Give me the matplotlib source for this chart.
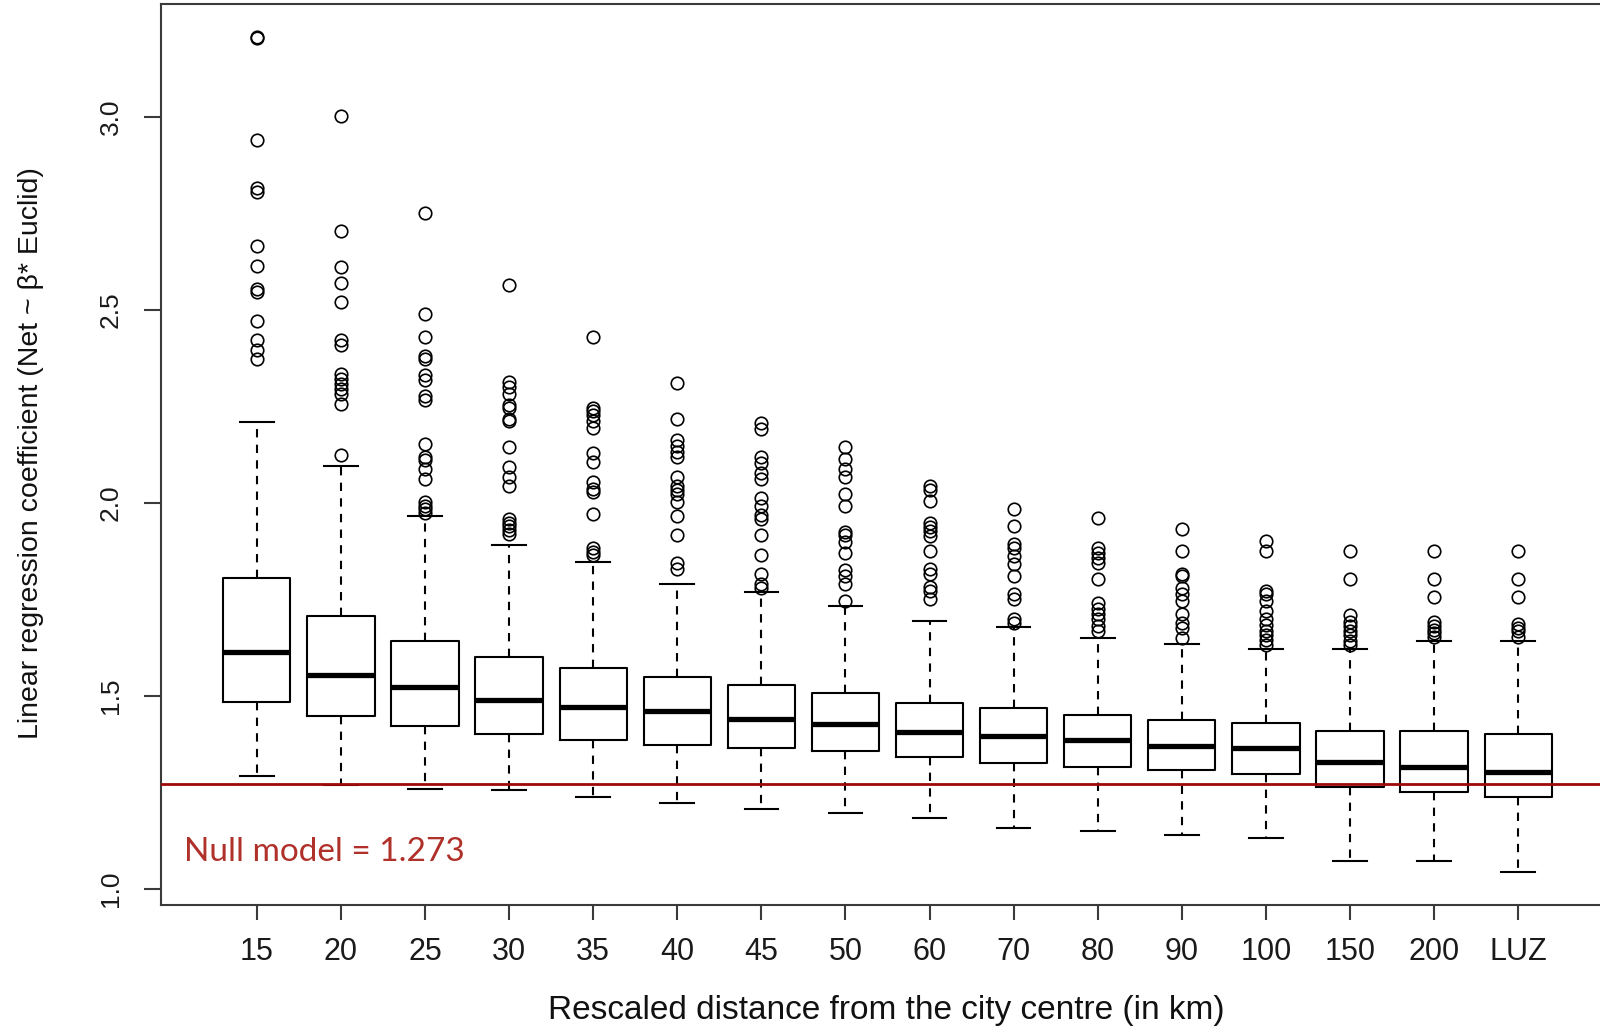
import matplotlib
matplotlib.use("Agg")
import matplotlib.pyplot as plt

# distance bands and box statistics
labels = ['15', '20', '25', '30', '35', '40', '45', '50', '60', '70', '80', '90', '100', '150', '200', 'LUZ']
whislo = [1.292, 1.270, 1.260, 1.256, 1.239, 1.223, 1.207, 1.198, 1.183, 1.158, 1.150, 1.141, 1.131, 1.072, 1.072, 1.043]
q1 = [1.484, 1.449, 1.422, 1.402, 1.385, 1.372, 1.365, 1.357, 1.341, 1.326, 1.315, 1.308, 1.297, 1.263, 1.251, 1.238]
med = [1.614, 1.554, 1.524, 1.489, 1.472, 1.460, 1.440, 1.427, 1.406, 1.395, 1.386, 1.371, 1.366, 1.329, 1.316, 1.303]
q3 = [1.805, 1.707, 1.643, 1.601, 1.573, 1.549, 1.528, 1.508, 1.483, 1.468, 1.451, 1.438, 1.431, 1.410, 1.410, 1.402]
whishi = [2.210, 2.095, 1.966, 1.891, 1.846, 1.790, 1.770, 1.732, 1.695, 1.679, 1.650, 1.635, 1.622, 1.622, 1.643, 1.643]

fliers = [
    [3.207, 3.203, 2.940, 2.815, 2.806, 2.666, 2.614, 2.555, 2.546, 2.471, 2.421, 2.395, 2.373],
    [3.001, 2.704, 2.611, 2.570, 2.520, 2.421, 2.408, 2.334, 2.321, 2.308, 2.295, 2.282, 2.256, 2.124],
    [2.752, 2.488, 2.429, 2.380, 2.372, 2.330, 2.318, 2.277, 2.267, 2.152, 2.118, 2.110, 2.088, 2.062,
     2.003, 1.993, 1.983, 1.974],
    [2.564, 2.314, 2.300, 2.282, 2.254, 2.247, 2.217, 2.212, 2.145, 2.093, 2.068, 2.043, 1.959, 1.949,
     1.939, 1.929, 1.919],
    [2.429, 2.247, 2.237, 2.227, 2.212, 2.195, 2.128, 2.105, 2.053, 2.036, 2.028, 1.972, 1.884, 1.874, 1.864],
    [2.311, 2.217, 2.163, 2.148, 2.133, 2.118, 2.068, 2.043, 2.033, 2.023, 2.003, 1.966, 1.916, 1.845, 1.830],
    [2.207, 2.192, 2.118, 2.103, 2.078, 2.063, 2.013, 1.993, 1.969, 1.959, 1.916, 1.864, 1.815, 1.790, 1.780],
    [2.145, 2.113, 2.088, 2.068, 2.023, 1.993, 1.924, 1.918, 1.899, 1.869, 1.825, 1.810, 1.790, 1.745],
    [2.044, 2.033, 2.005, 1.949, 1.938, 1.928, 1.914, 1.875, 1.828, 1.816, 1.782, 1.771, 1.750],
    [1.985, 1.940, 1.893, 1.884, 1.862, 1.841, 1.810, 1.763, 1.750, 1.698, 1.689],
    [1.962, 1.884, 1.871, 1.858, 1.845, 1.803, 1.741, 1.724, 1.711, 1.698, 1.681, 1.668],
    [1.933, 1.875, 1.817, 1.810, 1.780, 1.764, 1.745, 1.711, 1.689, 1.676, 1.650],
    [1.901, 1.875, 1.773, 1.764, 1.745, 1.721, 1.698, 1.683, 1.669, 1.659, 1.646, 1.633],
    [1.875, 1.802, 1.710, 1.691, 1.681, 1.667, 1.657, 1.643, 1.633],
    [1.875, 1.802, 1.757, 1.691, 1.681, 1.671, 1.662, 1.652],
    [1.875, 1.802, 1.757, 1.686, 1.676, 1.667, 1.652],
]

null_model = 1.273
yticks = [1.0, 1.5, 2.0, 2.5, 3.0]

plt.rcParams['font.family'] = ['Liberation Sans', 'DejaVu Sans']

stats = []
for i in range(len(labels)):
    stats.append({'label': labels[i], 'whislo': whislo[i], 'q1': q1[i], 'med': med[i],
                  'q3': q3[i], 'whishi': whishi[i], 'fliers': fliers[i]})

fig = plt.figure(figsize=(16, 10.27), dpi=100)
# axes run past the right edge, as in the cropped original
ax = fig.add_axes([161 / 1600, 1 - 905 / 1027, (1614 - 161) / 1600, (905 - 4) / 1027])

lw = 1.5
ax.bxp(stats, widths=0.8, capwidths=0.4,
       boxprops=dict(color='black', linewidth=lw),
       whiskerprops=dict(color='black', linewidth=lw, linestyle=(0, (4, 3.5))),
       capprops=dict(color='black', linewidth=lw),
       medianprops=dict(color='black', linewidth=3.8, solid_capstyle='butt'),
       flierprops=dict(marker='o', markerfacecolor='none', markeredgecolor='black',
                       markersize=9, markeredgewidth=1.2))

ax.axhline(null_model, color='#9E0A0A', linewidth=2.0, zorder=5)

ax.set_xlim(-0.14, 17.14)
ax.set_ylim(0.9586, 3.292)
ax.set_yticks(yticks)
ax.set_yticklabels(['%.1f' % v for v in yticks], rotation=90, va='center', fontsize=19, color='#1a1a1a')
ax.set_xticklabels(labels, fontsize=22, color='#1a1a1a')

for s in ax.spines.values():
    s.set_color('#3a3a3a')
    s.set_linewidth(1.5)
ax.tick_params(axis='y', length=12, width=1.5, color='#3a3a3a', pad=15.5)
ax.tick_params(axis='x', length=10.5, width=1.5, color='#3a3a3a', pad=12.5)

fig.text(886 / 1600, 1 - 1011 / 1027, 'Rescaled distance from the city centre (in km)',
         ha='center', va='center', fontsize=24, color='#111111')
fig.text(31 / 1600, 1 - 453 / 1027, 'Linear regression coefficient (Net ~ \u03b2* Euclid)',
         ha='center', va='center', rotation=90, fontsize=20.5, color='#111111')

fig.text(184 / 1600, 1 - 861 / 1027, 'Null model = 1.273', family=['Lato', 'DejaVu Sans'],
         ha='left', va='baseline', fontsize=24, color='#B0302A')

fig.savefig('out.png', dpi=100)
